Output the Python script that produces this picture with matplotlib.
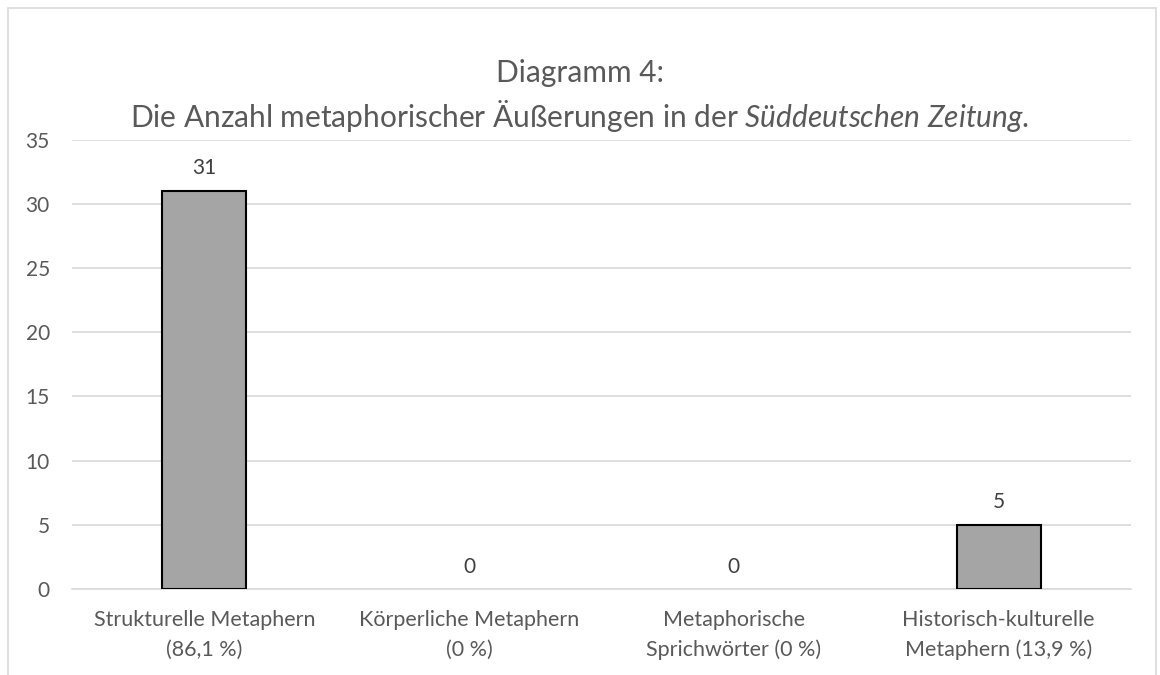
import matplotlib
matplotlib.use("Agg")
import matplotlib.pyplot as plt
from matplotlib.patches import Rectangle

plt.rcParams['font.family'] = ['Lato', 'DejaVu Sans']
plt.rcParams['mathtext.fontset'] = 'custom'
plt.rcParams['mathtext.rm'] = 'Lato'
plt.rcParams['mathtext.it'] = 'Lato:italic'

categories = ['Strukturelle Metaphern\n(86,1 %)', 'Körperliche Metaphern\n(0 %)',
              'Metaphorische\nSprichwörter (0 %)', 'Historisch-kulturelle\nMetaphern (13,9 %)']
counts = [31, 0, 0, 5]
yticks = [0, 5, 10, 15, 20, 25, 30, 35]

txt = '#595959'
fig = plt.figure(figsize=(11.6, 6.75), dpi=100)
ax = fig.add_axes([0.0621, 0.1274, 0.9129, 0.6659])

x = range(len(categories))
edges = ['black' if c > 0 else 'none' for c in counts]
bars = ax.bar(x, counts, width=0.317, color='#A5A5A5', edgecolor=edges, linewidth=1.5, zorder=3)
ax.bar_label(bars, labels=[str(c) for c in counts], padding=9, fontsize=15, color='#404040')

ax.set_xlim(-0.5, len(categories) - 0.5)
ax.set_ylim(0, 35)
ax.set_yticks(yticks)
ax.set_xticks(list(x))
ax.set_xticklabels(categories, linespacing=1.6)
ax.tick_params(axis='both', length=0, labelcolor=txt)
ax.tick_params(axis='y', pad=16, labelsize=15)
ax.tick_params(axis='x', pad=15, labelsize=15.5)
ax.grid(axis='y', color='#D9D9D9', linewidth=1.2, zorder=0)
for s in ['top', 'right', 'left']:
    ax.spines[s].set_visible(False)
ax.spines['bottom'].set_color('#D9D9D9')
ax.spines['bottom'].set_linewidth(1.2)

fig.text(0.5, 1 - 73 / 675, 'Diagramm 4:', ha='center', va='center', fontsize=21.5, color=txt)
fig.text(0.5, 1 - 116 / 675,
         r'Die Anzahl metaphorischer Äußerungen in der $\it{Süddeutschen\ Zeitung}$.',
         ha='center', va='center', fontsize=21.5, color=txt)

fig.patches.append(Rectangle((8 / 1160, -0.05), (1156 - 8) / 1160, 1.05 - 8 / 675,
                             transform=fig.transFigure, fill=False, edgecolor='#D9D9D9', linewidth=1.2))

fig.savefig('out.png', dpi=100)
